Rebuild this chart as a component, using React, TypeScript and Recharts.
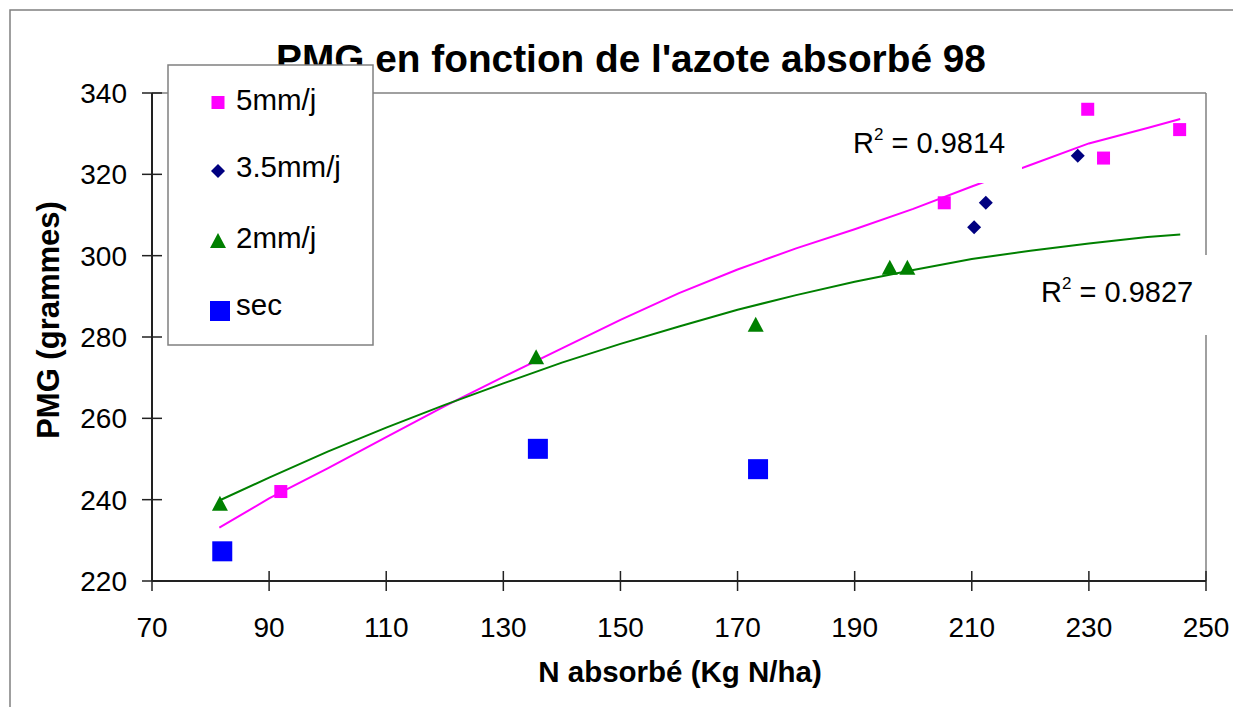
import React from "react";
import { ScatterChart, Scatter, XAxis, YAxis, ReferenceLine } from "recharts";

// measured values (N absorbé, PMG)
const fiveX = [92, 205.3, 229.8, 232.5, 245.5];
const fiveY = [242, 313, 336, 324, 331];
const threeX = [210.4, 212.4, 228.1];
const threeY = [307, 313, 324.6];
const twoX = [81.6, 135.6, 173.1, 196, 199];
const twoY = [239, 275, 283, 297, 297];
const secX = [82, 135.9, 173.5];
const secY = [227.3, 252.5, 247.5];

// trendlines
const trendX = [81.5, 90, 100, 110, 120, 130, 140, 150, 160, 170, 180, 190, 200, 210, 220, 230, 240, 245.6];
const pinkTrendY = [233.1, 240.3, 247.7, 255.4, 263, 270.2, 277.2, 284.2, 290.8, 296.6, 301.8, 306.5, 311.5, 317, 322.3, 327.6, 331.4, 333.6];
const greenTrendY = [239.8, 245.4, 251.8, 257.7, 263.3, 268.6, 273.7, 278.3, 282.6, 286.7, 290.3, 293.6, 296.5, 299.2, 301.2, 303, 304.6, 305.2];

const xTicks = [70, 90, 110, 130, 150, 170, 190, 210, 230, 250];
const yTicks = [220, 240, 260, 280, 300, 320, 340];

const FONT = '"Liberation Sans", Arial, sans-serif';
const AXIS = "#222";
const PINK = "#FF00FF";
const NAVY = "#000080";
const GREEN = "#008000";
const BLUE = "#0000FF";

const toPoints = (xs: number[], ys: number[]) => xs.map((x, i) => ({ x, y: ys[i] }));

const square = (size: number, color: string) => (p: any) => (
  <rect x={p.cx - size / 2} y={p.cy - size / 2} width={size} height={size} fill={color} />
);
const diamond = (p: any) => (
  <polygon
    points={`${p.cx},${p.cy - 7} ${p.cx + 7},${p.cy} ${p.cx},${p.cy + 7} ${p.cx - 7},${p.cy}`}
    fill={NAVY}
  />
);
const triangle = (p: any) => (
  <polygon
    points={`${p.cx},${p.cy - 8} ${p.cx + 8},${p.cy + 7} ${p.cx - 8},${p.cy + 7}`}
    fill={GREEN}
  />
);
const noShape = () => <g />;

const XTick = (props: any) => {
  const { x, y, payload } = props;
  return (
    <g>
      <line x1={x} x2={x} y1={y - 20} y2={y} stroke={AXIS} strokeWidth={1.5} />
      <text x={x} y={y + 46} textAnchor="middle" fontFamily={FONT} fontSize={28} fill="#000">
        {payload.value}
      </text>
    </g>
  );
};

const YTick = (props: any) => {
  const { x, y, payload } = props;
  return (
    <g>
      <line x1={x} x2={x + 20} y1={y} y2={y} stroke={AXIS} strokeWidth={1.5} />
      <text x={x - 15} y={y + 10} textAnchor="end" fontFamily={FONT} fontSize={28} fill="#000">
        {payload.value}
      </text>
    </g>
  );
};

const R2 = ({ x, y, value }: { x: number; y: number; value: string }) => (
  <text x={x} y={y} fontFamily={FONT} fontSize={29} fill="#000">
    <tspan>R</tspan>
    <tspan dy={-13} fontSize={17}>2</tspan>
    <tspan dy={13}>{" = " + value}</tspan>
  </text>
);

export default function App() {
  return (
    <div style={{ position: "absolute", left: 0, top: 0, width: 1233, height: 707, background: "#fff" }}>
      <ScatterChart width={1233} height={707} margin={{ top: 93, right: 27, left: 0, bottom: 0 }}>
        <XAxis
          type="number"
          dataKey="x"
          domain={[70, 250]}
          ticks={xTicks}
          height={126}
          tickSize={10}
          tickMargin={0}
          tickLine={false}
          tick={<XTick />}
          axisLine={{ stroke: AXIS, strokeWidth: 2 }}
          allowDataOverflow
        />
        <YAxis
          type="number"
          dataKey="y"
          domain={[220, 340]}
          ticks={yTicks}
          width={152}
          tickSize={10}
          tickMargin={0}
          tickLine={false}
          tick={<YTick />}
          axisLine={{ stroke: AXIS, strokeWidth: 2 }}
          allowDataOverflow
        />
        <ReferenceLine y={340} stroke="#808080" strokeWidth={1.5} />
        <ReferenceLine x={250} stroke="#808080" strokeWidth={1.5} />
        <Scatter
          data={toPoints(trendX, pinkTrendY)}
          line={{ stroke: PINK, strokeWidth: 2 }}
          shape={noShape}
          isAnimationActive={false}
        />
        <Scatter
          data={toPoints(trendX, greenTrendY)}
          line={{ stroke: GREEN, strokeWidth: 2 }}
          shape={noShape}
          isAnimationActive={false}
        />
        <Scatter name="5mm/j" data={toPoints(fiveX, fiveY)} shape={square(13, PINK)} isAnimationActive={false} />
        <Scatter name="3.5mm/j" data={toPoints(threeX, threeY)} shape={diamond} isAnimationActive={false} />
        <Scatter name="2mm/j" data={toPoints(twoX, twoY)} shape={triangle} isAnimationActive={false} />
        <Scatter name="sec" data={toPoints(secX, secY)} shape={square(20, BLUE)} isAnimationActive={false} />
      </ScatterChart>

      <svg
        width={1233}
        height={707}
        style={{ position: "absolute", left: 0, top: 0, pointerEvents: "none" }}
      >
        <path d="M10,707 L10,10 L1233,10" fill="none" stroke="#808080" strokeWidth={1.5} />

        <text x={631} y={72} textAnchor="middle" fontFamily={FONT} fontWeight="bold" fontSize={38.8} fill="#000">
          PMG en fonction de l'azote absorbé 98
        </text>

        {/* legend */}
        <rect x={168} y={65} width={205} height={280} fill="#fff" stroke="#808080" strokeWidth={1.5} />
        <rect x={211.5} y={96} width={13} height={13} fill={PINK} />
        <text x={236} y={110} fontFamily={FONT} fontSize={29.5}>5mm/j</text>
        <polygon points="218,164 225,171 218,178 211,171" fill={NAVY} />
        <text x={236} y={177} fontFamily={FONT} fontSize={29.5}>3.5mm/j</text>
        <polygon points="218,233 226,248 210,248" fill={GREEN} />
        <text x={236} y={248} fontFamily={FONT} fontSize={29.5}>2mm/j</text>
        <rect x={210} y={301} width={20} height={20} fill={BLUE} />
        <text x={236} y={315} fontFamily={FONT} fontSize={29.5}>sec</text>

        {/* R² labels */}
        <rect x={838} y={106} width={184} height={77} fill="#fff" />
        <R2 x={853} y={153} value="0.9814" />
        <rect x={1026} y={255} width={186} height={80} fill="#fff" />
        <R2 x={1041} y={302} value="0.9827" />

        {/* axis titles */}
        <text x={680} y={682} textAnchor="middle" fontFamily={FONT} fontWeight="bold" fontSize={29.5}>
          N absorbé (Kg N/ha)
        </text>
        <text
          x={59}
          y={320}
          textAnchor="middle"
          fontFamily={FONT}
          fontWeight="bold"
          fontSize={31}
          transform="rotate(-90, 59, 320)"
        >
          PMG (grammes)
        </text>
      </svg>
    </div>
  );
}
